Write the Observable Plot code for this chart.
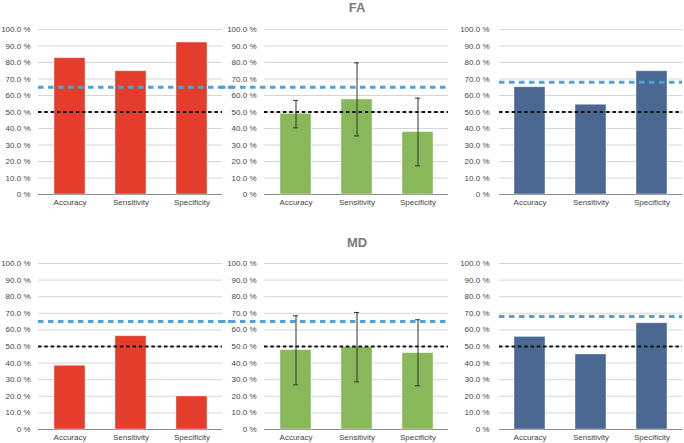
<!DOCTYPE html>
<html><head><meta charset="utf-8">
<script src="https://cdn.jsdelivr.net/npm/d3@7"></script>
<script src="https://cdn.jsdelivr.net/npm/@observablehq/plot@0.6"></script>
<style>
body{margin:0;background:#fff;font-family:"Liberation Sans",Arial,sans-serif;}
#wrap{position:relative;width:684px;height:443px;overflow:hidden;}
.panel{position:absolute;}
.title{position:absolute;font-weight:bold;font-size:13px;line-height:15px;color:#7a7a7a;transform:translateX(-50%);}
</style></head>
<body><div id="wrap"></div>
<script>
const categories = ["Accuracy", "Sensitivity", "Specificity"];
const rowTitles = ["FA", "MD"];
const yTicks = [0,10,20,30,40,50,60,70,80,90,100];

// FA row
const faRed = [82.6, 74.7, 92.1];
const faGreen = [48.9, 57.6, 37.8];
const faGreenHi = [57.0, 79.8, 58.4];
const faGreenLo = [40.4, 35.5, 17.4];
const faBlue = [65.0, 54.4, 74.7];
// MD row
const mdRed = [38.4, 56.2, 19.9];
const mdGreen = [47.8, 49.6, 46.0];
const mdGreenHi = [68.5, 70.5, 66.1];
const mdGreenLo = [26.9, 28.7, 26.3];
const mdBlue = [55.8, 45.2, 64.0];

// reference lines per column
const chanceLevel = [50, 50, 50];
const refLevel = [65, 65, 68];

const colors = ["#e43d2b", "#89b85a", "#4a6892"];
const rows = [
  {title: rowTitles[0], series: [faRed, faGreen, faBlue], hi: faGreenHi, lo: faGreenLo},
  {title: rowTitles[1], series: [mdRed, mdGreen, mdBlue], hi: mdGreenHi, lo: mdGreenLo}
];

const layout = {
  rowTop: [0, 234], rowPlotH: [165, 166], marginTop: 29, titleTop: [0, 235],
  colLeft: [0, 226, 461], marginLeft: 38,
  plotW: [184, 184, 183], tickPad: [8, 8, 10],
  blueInsetLeft: [0, -44, 0], blueInsetRight: [-14, 0, 0]
};

const wrap = document.getElementById("wrap");
const fmt = v => v === 0 ? "0 %" : v.toFixed(1) + " %";

rows.forEach((row, r) => {
  const t = document.createElement("div");
  t.className = "title";
  t.textContent = row.title;
  t.style.left = "357px";
  t.style.top = layout.titleTop[r] + "px";
  wrap.appendChild(t);

  row.series.forEach((vals, c) => {
    const data = categories.map((k, i) => ({cat: k, v: vals[i],
      hi: c === 1 ? row.hi[i] : null, lo: c === 1 ? row.lo[i] : null}));
    const marginBottom = r === 0 ? 21 : 14;
    const marks = [
      Plot.ruleY(yTicks.filter(d => d > 0), {stroke: "#d6d6d6", strokeWidth: 1}),
      Plot.ruleY([0], {stroke: "#8a8a8a", strokeWidth: 1}),
      Plot.barY(data, {x: "cat", y: "v", fill: colors[c], stroke: "#ffffff", strokeOpacity: 0.5, strokeWidth: 0.8}),
      Plot.ruleY([refLevel[c]], {stroke: "#4aa3dc", strokeWidth: 3, strokeDasharray: "5.5,4.5",
        insetLeft: layout.blueInsetLeft[c], insetRight: layout.blueInsetRight[c]}),
      Plot.ruleY([chanceLevel[c]], {stroke: "#111", strokeWidth: 2.2, strokeDasharray: "3.5,2.8"})
    ];
    if (c === 1) {
      marks.push(
        Plot.ruleX(data, {x: "cat", y1: "lo", y2: "hi", stroke: "#333", strokeWidth: 1}),
        Plot.tickY(data, {x: "cat", y: "hi", stroke: "#333", strokeWidth: 1, insetLeft: 13, insetRight: 13}),
        Plot.tickY(data, {x: "cat", y: "lo", stroke: "#333", strokeWidth: 1, insetLeft: 13, insetRight: 13})
      );
    }
    const chart = Plot.plot({
      width: layout.marginLeft + layout.plotW[c] + 14,
      height: layout.marginTop + layout.rowPlotH[r] + marginBottom,
      marginTop: layout.marginTop, marginLeft: layout.marginLeft, marginRight: 14, marginBottom,
      style: {fontFamily: "Liberation Sans, Arial, sans-serif", fontSize: "8px", color: "#444", background: "transparent", overflow: "visible"},
      x: {domain: categories, paddingInner: 0.5, paddingOuter: 0.25, label: null, tickSize: 0, tickPadding: 5},
      y: {domain: [0, 100], ticks: yTicks, tickFormat: fmt, label: null, tickSize: 0, tickPadding: layout.tickPad[c]},
      marks
    });
    chart.classList.add("panel");
    chart.style.left = layout.colLeft[c] + "px";
    chart.style.top = layout.rowTop[r] + "px";
    wrap.appendChild(chart);
  });
});
</script></body></html>
